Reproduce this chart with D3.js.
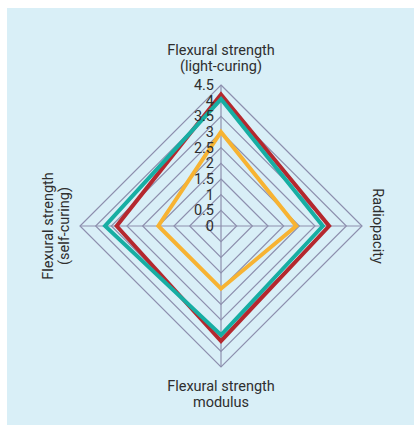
<!DOCTYPE html>
<html>
<head>
<meta charset="utf-8">
<script src="https://cdn.jsdelivr.net/npm/d3@7"></script>
<style>
  html, body { margin: 0; padding: 0; background: #fff; }
  svg { display: block; }
  text { font-family: Roboto, "Open Sans", sans-serif; fill: #2e2e2e; }
</style>
</head>
<body>
<svg id="chart" width="414" height="425"></svg>
<script>
// Axes, clockwise from the top
const axes = [
  ["Flexural strength", "(light-curing)"],
  ["Radiopacity"],
  ["Flexural strength", "modulus"],
  ["Flexural strength", "(self-curing)"]
];
const tickValues = [0, 0.5, 1, 1.5, 2, 2.5, 3, 3.5, 4, 4.5];
const tickLabels = ["0", "0.5", "1", "1.5", "2", "2.5", "3", "3.5", "4", "4.5"];

// Series values, one per axis in the order above
const seriesRed    = [4.2, 3.45, 3.67, 3.33];
const seriesTeal   = [4.05, 3.25, 3.48, 3.7];
const seriesYellow = [3.0, 2.4, 2.0, 2.0];
const seriesColors = ["#b5282e", "#17aea3", "#f7b332"];

const svg = d3.select("#chart");
svg.append("rect")
  .attr("x", 7).attr("y", 8).attr("width", 407).attr("height", 417)
  .attr("fill", "#d9eff7");

const cx = 221, cy = 226;
const r = d3.scaleLinear().domain([0, 4.5]).range([0, 141]);
const angle = d3.scaleLinear().domain([0, axes.length]).range([0, 2 * Math.PI]);

const g = svg.append("g").attr("transform", `translate(${cx},${cy})`);

const radial = d3.lineRadial()
  .angle((d, i) => angle(i))
  .radius(d => r(d))
  .curve(d3.curveLinearClosed);

// Grid rings
g.selectAll("path.ring")
  .data(tickValues.filter(v => v > 0))
  .join("path")
  .attr("class", "ring")
  .attr("d", v => radial(axes.map(() => v)))
  .attr("fill", "none")
  .attr("stroke", "#8d8fae")
  .attr("stroke-width", 1.2);

// Spokes
g.selectAll("line.spoke")
  .data(axes)
  .join("line")
  .attr("class", "spoke")
  .attr("x1", 0).attr("y1", 0)
  .attr("x2", (d, i) => r(4.5) * Math.sin(angle(i)))
  .attr("y2", (d, i) => -r(4.5) * Math.cos(angle(i)))
  .attr("stroke", "#8d8fae")
  .attr("stroke-width", 1.2);

// Series outlines
const series = [seriesRed, seriesTeal, seriesYellow];
g.selectAll("path.series")
  .data(series)
  .join("path")
  .attr("class", "series")
  .attr("d", d => radial(d))
  .attr("fill", "none")
  .attr("stroke", (d, i) => seriesColors[i])
  .attr("stroke-width", 4)
  .attr("stroke-linejoin", "miter");

// Tick labels along the top spoke
g.selectAll("text.tick")
  .data(tickValues)
  .join("text")
  .attr("class", "tick")
  .attr("x", -7)
  .attr("y", v => -r(v))
  .attr("dy", "0.35em")
  .attr("text-anchor", "end")
  .attr("font-size", 14.5)
  .text((v, i) => tickLabels[i]);

// Axis titles
const fs = 14.5;
function title(lines, x, y, rot) {
  const t = svg.append("text")
    .attr("text-anchor", "middle")
    .attr("font-size", fs)
    .attr("transform", `translate(${x},${y}) rotate(${rot})`);
  lines.forEach((s, i) => {
    t.append("tspan").attr("x", 0).attr("y", i * 15.5).text(s);
  });
}
title(axes[0], cx, 55, 0);
title(axes[1], 373, cy, 90);
title(axes[2], cx, 391, 0);
title(axes[3], 53, cy, -90);
</script>
</body>
</html>
